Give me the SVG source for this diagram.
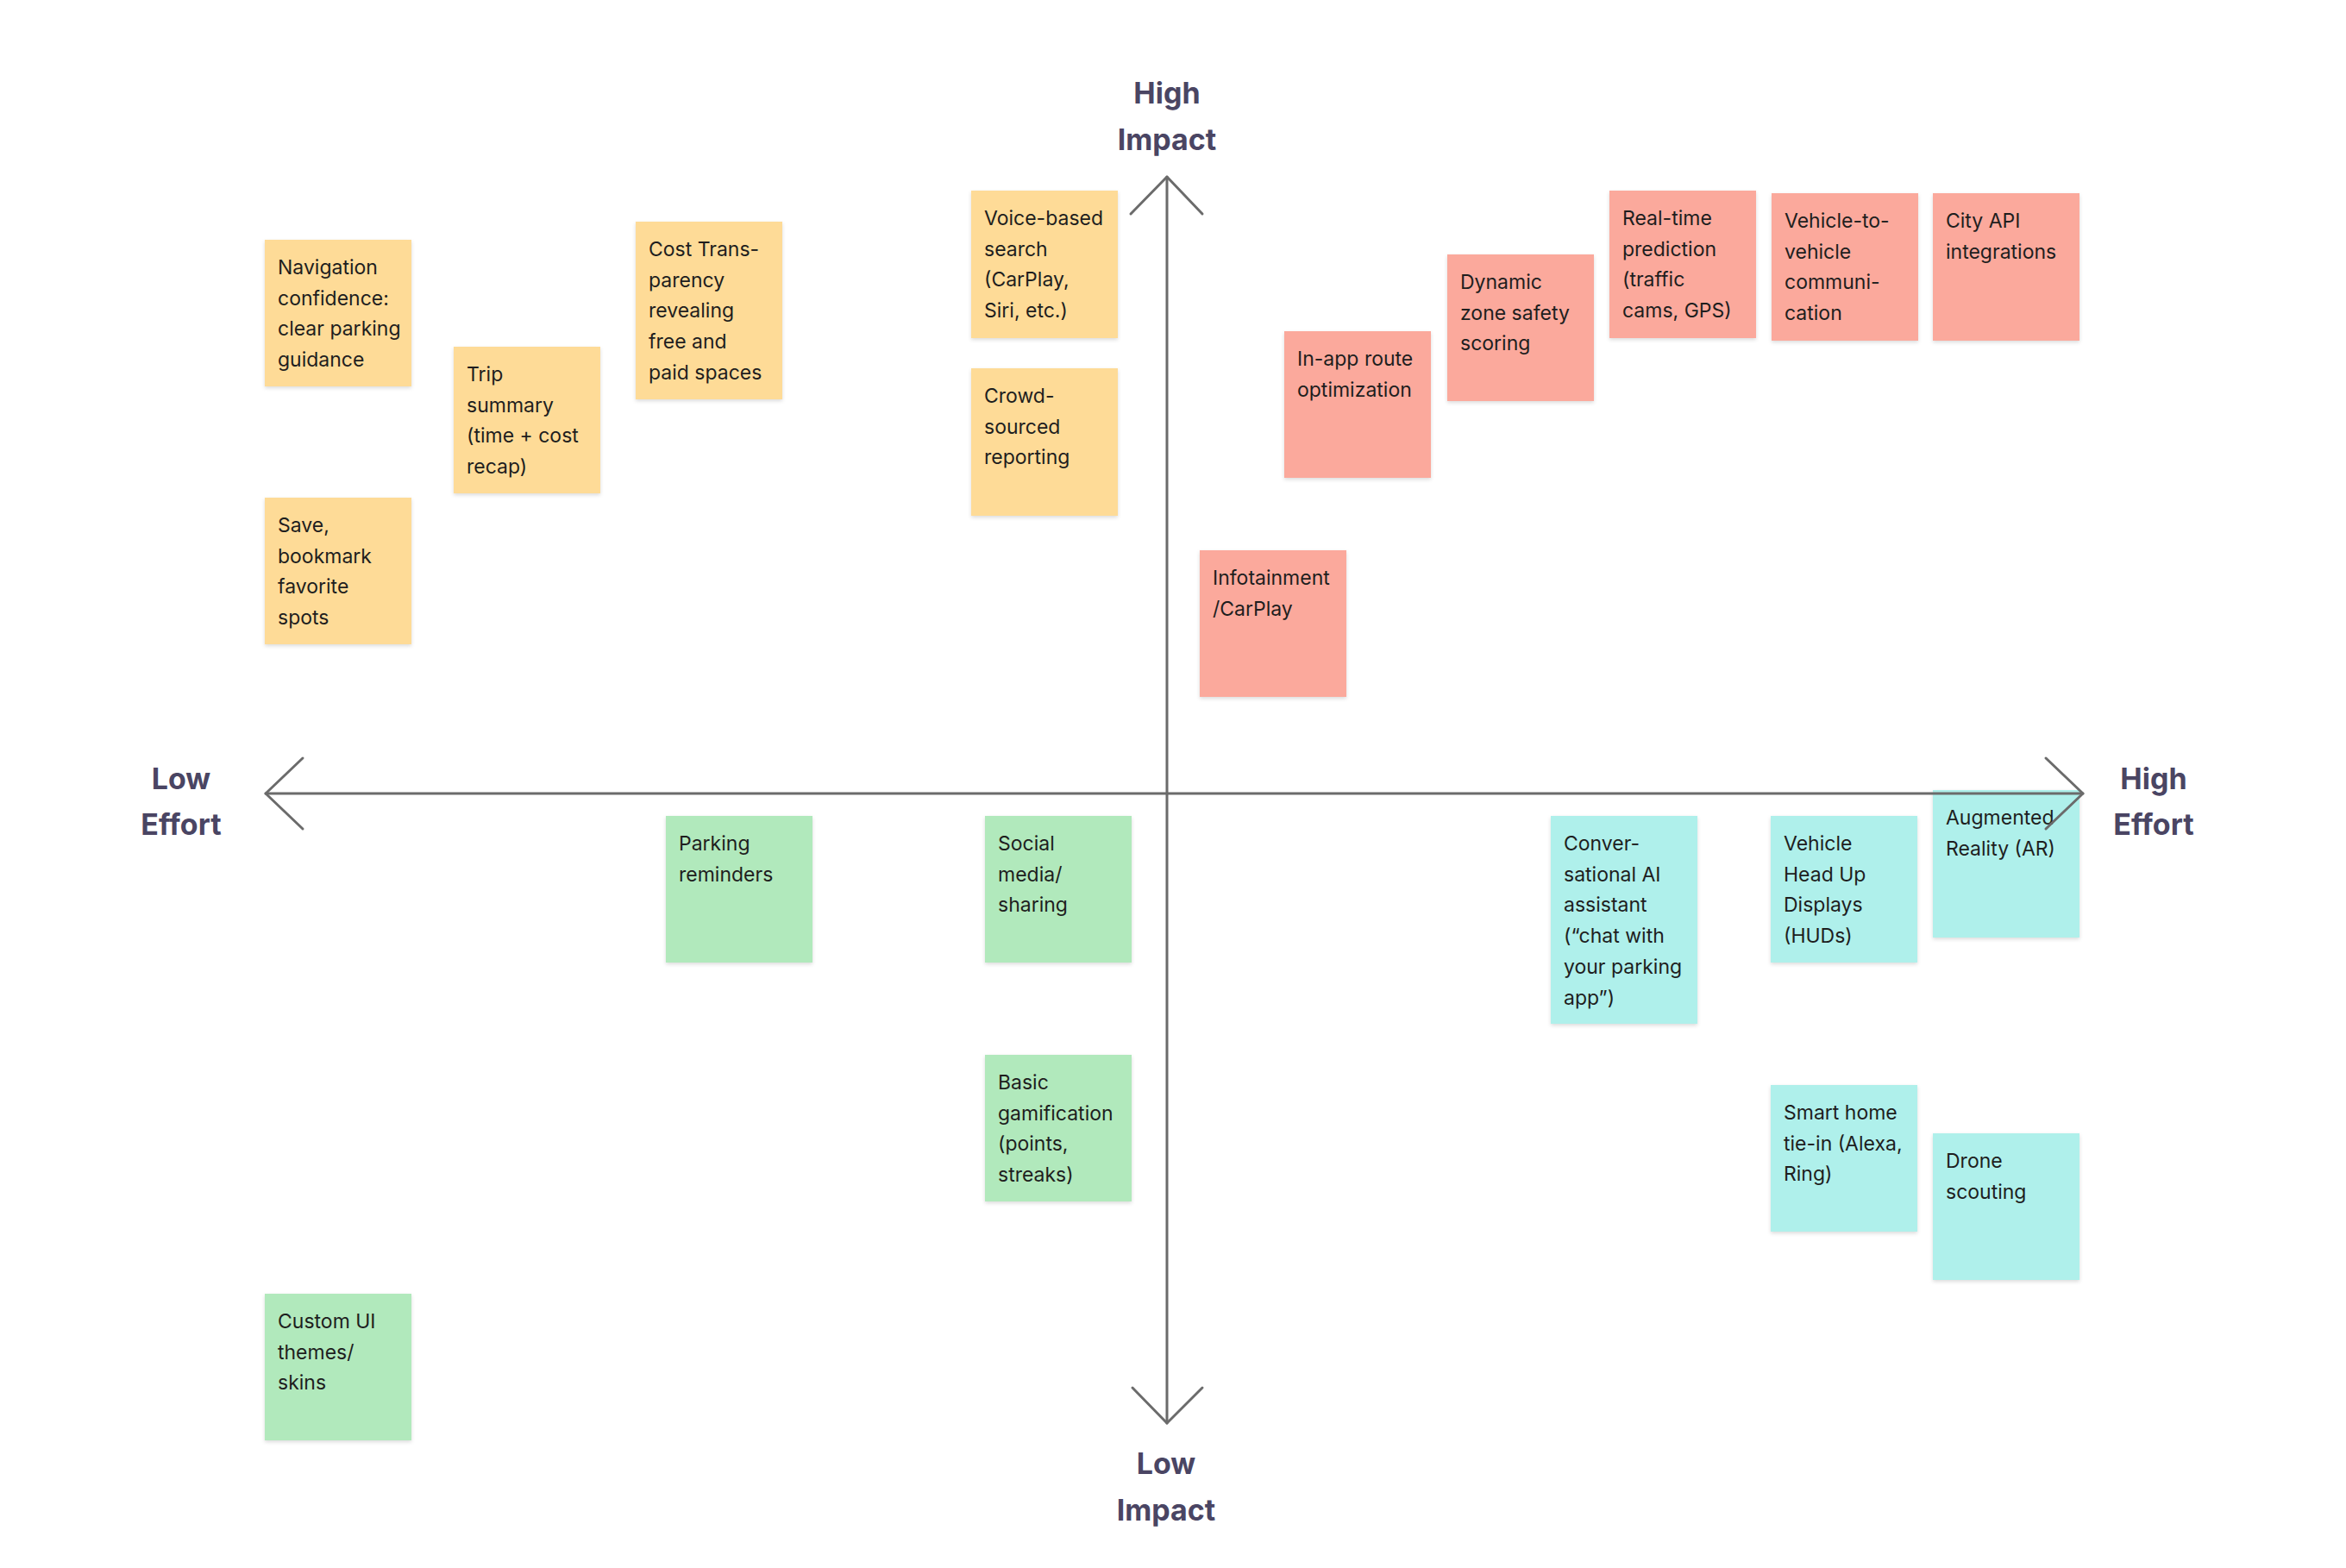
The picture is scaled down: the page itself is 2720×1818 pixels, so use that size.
<svg xmlns="http://www.w3.org/2000/svg" width="2720" height="1818" viewBox="0 0 2720 1818">
<style>
.n{filter:url(#sh)}
.y{fill:#FEDB97}
.r{fill:#FBA99C}
.g{fill:#B1E9BC}
.t{fill:#AFF0EB}
.tx{font-family:Inter,"Liberation Sans",sans-serif;font-size:23px;fill:#1E1E1E}
.lb{font-family:Inter,"Liberation Sans",sans-serif;font-size:34px;font-weight:700;fill:#4A4563;text-anchor:middle}
.ax{stroke:#6B6B6B;stroke-width:3;fill:none;stroke-linecap:round;stroke-linejoin:round}
</style>
<defs>
<filter id="sh" x="-10%" y="-10%" width="120%" height="125%">
<feDropShadow dx="0" dy="2" stdDeviation="2" flood-color="#000" flood-opacity="0.14"/>
</filter>
</defs>
<rect width="2720" height="1818" fill="#FFFFFF"/>
<g id="nodes">
<g id="nav"><rect class="n y" x="307" y="278" width="170" height="170"/><text class="tx" x="322" y="318"><tspan x="322">Navigation</tspan><tspan x="322" dy="35.7">confidence:</tspan><tspan x="322" dy="35.7">clear parking</tspan><tspan x="322" dy="35.7">guidance</tspan></text></g>
<g id="trip"><rect class="n y" x="526" y="402" width="170" height="170"/><text class="tx" x="541" y="442"><tspan x="541">Trip</tspan><tspan x="541" dy="35.7">summary</tspan><tspan x="541" dy="35.7">(time + cost</tspan><tspan x="541" dy="35.7">recap)</tspan></text></g>
<g id="cost"><rect class="n y" x="737" y="257" width="170" height="206"/><text class="tx" x="752" y="297"><tspan x="752">Cost Trans-</tspan><tspan x="752" dy="35.7">parency</tspan><tspan x="752" dy="35.7">revealing</tspan><tspan x="752" dy="35.7">free and</tspan><tspan x="752" dy="35.7">paid spaces</tspan></text></g>
<g id="save"><rect class="n y" x="307" y="577" width="170" height="170"/><text class="tx" x="322" y="617"><tspan x="322">Save,</tspan><tspan x="322" dy="35.7">bookmark</tspan><tspan x="322" dy="35.7">favorite</tspan><tspan x="322" dy="35.7">spots</tspan></text></g>
<g id="voice"><rect class="n y" x="1126" y="221" width="170" height="171"/><text class="tx" x="1141" y="261"><tspan x="1141">Voice-based</tspan><tspan x="1141" dy="35.7">search</tspan><tspan x="1141" dy="35.7">(CarPlay,</tspan><tspan x="1141" dy="35.7">Siri, etc.)</tspan></text></g>
<g id="crowd"><rect class="n y" x="1126" y="427" width="170" height="171"/><text class="tx" x="1141" y="467"><tspan x="1141">Crowd-</tspan><tspan x="1141" dy="35.7">sourced</tspan><tspan x="1141" dy="35.7">reporting</tspan></text></g>
<g id="inapp"><rect class="n r" x="1489" y="384" width="170" height="170"/><text class="tx" x="1504" y="424"><tspan x="1504">In-app route</tspan><tspan x="1504" dy="35.7">optimization</tspan></text></g>
<g id="dynamic"><rect class="n r" x="1678" y="295" width="170" height="170"/><text class="tx" x="1693" y="335"><tspan x="1693">Dynamic</tspan><tspan x="1693" dy="35.7">zone safety</tspan><tspan x="1693" dy="35.7">scoring</tspan></text></g>
<g id="realtime"><rect class="n r" x="1866" y="221" width="170" height="171"/><text class="tx" x="1881" y="261"><tspan x="1881">Real-time</tspan><tspan x="1881" dy="35.7">prediction</tspan><tspan x="1881" dy="35.7">(traffic</tspan><tspan x="1881" dy="35.7">cams, GPS)</tspan></text></g>
<g id="v2v"><rect class="n r" x="2054" y="224" width="170" height="171"/><text class="tx" x="2069" y="264"><tspan x="2069">Vehicle-to-</tspan><tspan x="2069" dy="35.7">vehicle</tspan><tspan x="2069" dy="35.7">communi-</tspan><tspan x="2069" dy="35.7">cation</tspan></text></g>
<g id="city"><rect class="n r" x="2241" y="224" width="170" height="171"/><text class="tx" x="2256" y="264"><tspan x="2256">City API</tspan><tspan x="2256" dy="35.7">integrations</tspan></text></g>
<g id="info"><rect class="n r" x="1391" y="638" width="170" height="170"/><text class="tx" x="1406" y="678"><tspan x="1406">Infotainment</tspan><tspan x="1406" dy="35.7">/CarPlay</tspan></text></g>
<g id="remind"><rect class="n g" x="772" y="946" width="170" height="170"/><text class="tx" x="787" y="986"><tspan x="787">Parking</tspan><tspan x="787" dy="35.7">reminders</tspan></text></g>
<g id="social"><rect class="n g" x="1142" y="946" width="170" height="170"/><text class="tx" x="1157" y="986"><tspan x="1157">Social</tspan><tspan x="1157" dy="35.7">media/</tspan><tspan x="1157" dy="35.7">sharing</tspan></text></g>
<g id="gamify"><rect class="n g" x="1142" y="1223" width="170" height="170"/><text class="tx" x="1157" y="1263"><tspan x="1157">Basic</tspan><tspan x="1157" dy="35.7">gamification</tspan><tspan x="1157" dy="35.7">(points,</tspan><tspan x="1157" dy="35.7">streaks)</tspan></text></g>
<g id="custom"><rect class="n g" x="307" y="1500" width="170" height="170"/><text class="tx" x="322" y="1540"><tspan x="322">Custom UI</tspan><tspan x="322" dy="35.7">themes/</tspan><tspan x="322" dy="35.7">skins</tspan></text></g>
<g id="conv"><rect class="n t" x="1798" y="946" width="170" height="241"/><text class="tx" x="1813" y="986"><tspan x="1813">Conver-</tspan><tspan x="1813" dy="35.7">sational AI</tspan><tspan x="1813" dy="35.7">assistant</tspan><tspan x="1813" dy="35.7">(“chat with</tspan><tspan x="1813" dy="35.7">your parking</tspan><tspan x="1813" dy="35.7">app”)</tspan></text></g>
<g id="hud"><rect class="n t" x="2053" y="946" width="170" height="170"/><text class="tx" x="2068" y="986"><tspan x="2068">Vehicle</tspan><tspan x="2068" dy="35.7">Head Up</tspan><tspan x="2068" dy="35.7">Displays</tspan><tspan x="2068" dy="35.7">(HUDs)</tspan></text></g>
<g id="ar"><rect class="n t" x="2241" y="916" width="170" height="171"/><text class="tx" x="2256" y="956"><tspan x="2256">Augmented</tspan><tspan x="2256" dy="35.7">Reality (AR)</tspan></text></g>
<g id="smart"><rect class="n t" x="2053" y="1258" width="170" height="170"/><text class="tx" x="2068" y="1298"><tspan x="2068">Smart home</tspan><tspan x="2068" dy="35.7">tie-in (Alexa,</tspan><tspan x="2068" dy="35.7">Ring)</tspan></text></g>
<g id="drone"><rect class="n t" x="2241" y="1314" width="170" height="170"/><text class="tx" x="2256" y="1354"><tspan x="2256">Drone</tspan><tspan x="2256" dy="35.7">scouting</tspan></text></g>
</g>
<g id="connectors">
<line class="ax" x1="1353" y1="205" x2="1353" y2="1650"/>
<polyline class="ax" points="1311,248 1353,205 1394,248"/>
<polyline class="ax" points="1313,1609 1353,1650 1394,1609"/>
<line class="ax" x1="308" y1="920" x2="2415" y2="920"/>
<polyline class="ax" points="351,879 308,920 351,961"/>
<polyline class="ax" points="2372,879 2415,920 2372,961"/>
</g>
<g id="labels">
<text class="lb" x="1353" y="120">High</text>
<text class="lb" x="1353" y="174">Impact</text>
<text class="lb" x="1352" y="1709">Low</text>
<text class="lb" x="1352" y="1763">Impact</text>
<text class="lb" x="210" y="915">Low</text>
<text class="lb" x="210" y="968">Effort</text>
<text class="lb" x="2497" y="915">High</text>
<text class="lb" x="2497" y="968">Effort</text>
</g>
</svg>
